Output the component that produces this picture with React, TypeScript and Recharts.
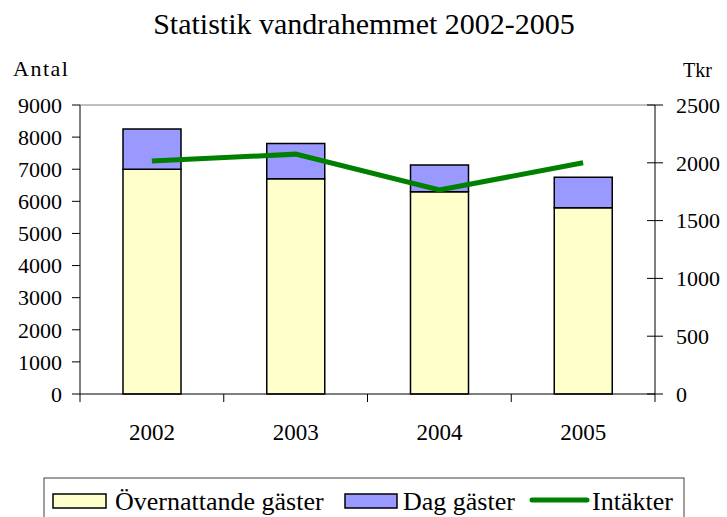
import {
  ComposedChart,
  Bar,
  Line,
  XAxis,
  YAxis,
  ReferenceLine,
} from 'recharts';

const years = ['2002', '2003', '2004', '2005'];
const overnightGuests = [7000, 6700, 6300, 5800];
const dayGuests = [1250, 1100, 830, 950];
const revenueTkr = [2015, 2075, 1765, 2000];

const leftTicks = [0, 1000, 2000, 3000, 4000, 5000, 6000, 7000, 8000, 9000];
const rightTicks = [0, 500, 1000, 1500, 2000, 2500];

const FONT = '"Liberation Serif", "Times New Roman", Times, serif';
const W = 727;
const H = 517;
const LEFT_W = 80;
const RIGHT_W = 72;
const PLOT_W = W - LEFT_W - RIGHT_W;
const BAND = PLOT_W / years.length;

const chartData = years.map((year, i) => ({
  year,
  overnight: overnightGuests[i],
  day: dayGuests[i],
  revenue: revenueTkr[i],
}));

const textStyle = { fontFamily: FONT, fontSize: 22 };

// category label at the centre, tick marks on the band edges (Excel style)
function YearTick(props: any) {
  const { x, y, payload, index } = props;
  const axisY = y - 30;
  const isLast = index === years.length - 1;
  return (
    <g>
      <line x1={x - BAND / 2} x2={x - BAND / 2} y1={axisY} y2={axisY + 8} stroke="#000" />
      {isLast && (
        <line x1={x + BAND / 2} x2={x + BAND / 2} y1={axisY} y2={axisY + 8} stroke="#000" />
      )}
      <text x={x} y={y} dy="0.71em" textAnchor="middle" fill="#000" style={{ ...textStyle, fontSize: 23 }}>
        {payload.value}
      </text>
    </g>
  );
}

function LeftTick(props: any) {
  const { x, y, payload } = props;
  return (
    <text x={x} y={y} dy="0.355em" textAnchor="end" fill="#000" style={textStyle}>
      {payload.value}
    </text>
  );
}

// right axis ticks cross the axis line
function RightTick(props: any) {
  const { x, y, payload } = props;
  const axisX = x - 21;
  return (
    <g>
      <line x1={axisX - 8} x2={axisX + 8} y1={y} y2={y} stroke="#000" />
      <text x={x} y={y} dy="0.355em" textAnchor="start" fill="#000" style={textStyle}>
        {payload.value}
      </text>
    </g>
  );
}

export default function App() {
  return (
    <div style={{ position: 'absolute', left: 0, top: 0, width: W, height: H, background: '#fff', fontFamily: FONT }}>
      <ComposedChart
        width={W}
        height={H}
        data={chartData}
        margin={{ top: 105, right: 0, left: 0, bottom: 63 }}
      >
        <XAxis
          dataKey="year"
          xAxisId="cat"
          height={60}
          axisLine={{ stroke: '#000' }}
          tickLine={false}
          tickSize={8}
          tickMargin={22}
          tick={<YearTick />}
          interval={0}
        />
        <YAxis
          yAxisId="left"
          orientation="left"
          width={LEFT_W}
          domain={[0, 9000]}
          ticks={leftTicks}
          interval={0}
          axisLine={{ stroke: '#000' }}
          tickLine={{ stroke: '#000' }}
          tickSize={8}
          tickMargin={10}
          tick={<LeftTick />}
        />
        <YAxis
          yAxisId="right"
          orientation="right"
          width={RIGHT_W}
          domain={[0, 2500]}
          ticks={rightTicks}
          interval={0}
          axisLine={{ stroke: '#000' }}
          tickLine={false}
          tickSize={8}
          tickMargin={13}
          tick={<RightTick />}
        />
        <ReferenceLine yAxisId="left" xAxisId="cat" y={9000} stroke="#808080" />
        <Bar
          xAxisId="cat"
          yAxisId="left"
          dataKey="overnight"
          stackId="guests"
          fill="#FFFFCC"
          stroke="#000"
          strokeWidth={1.5}
          barSize={58}
          isAnimationActive={false}
        />
        <Bar
          xAxisId="cat"
          yAxisId="left"
          dataKey="day"
          stackId="guests"
          fill="#9999FF"
          stroke="#000"
          strokeWidth={1.5}
          barSize={58}
          isAnimationActive={false}
        />
        <Line
          xAxisId="cat"
          yAxisId="right"
          dataKey="revenue"
          stroke="#008000"
          strokeWidth={5}
          dot={false}
          activeDot={false}
          isAnimationActive={false}
        />
      </ComposedChart>

      <svg
        width={W}
        height={H}
        style={{ position: 'absolute', left: 0, top: 0, pointerEvents: 'none', fontFamily: FONT }}
      >
        <text x={364} y={34} textAnchor="middle" fontSize={30} fill="#000">
          Statistik vandrahemmet 2002-2005
        </text>
        <text x={13} y={76} fontSize={22} letterSpacing={1.5} fill="#000">
          Antal
        </text>
        <text x={683} y={77} fontSize={20} fill="#000">
          Tkr
        </text>

        <rect x={44} y={478} width={640} height={60} fill="#fff" stroke="#404040" />
        <rect x={53} y={494} width={53} height={14} fill="#FFFFCC" stroke="#000" strokeWidth={1.5} />
        <text x={115} y={510} fontSize={26} fill="#000">
          Övernattande gäster
        </text>
        <rect x={345} y={494} width={52} height={14} fill="#9999FF" stroke="#000" strokeWidth={1.5} />
        <text x={403} y={510} fontSize={26} fill="#000">
          Dag gäster
        </text>
        <line x1={532} x2={587} y1={500} y2={500} stroke="#008000" strokeWidth={5} strokeLinecap="round" />
        <text x={592} y={510} fontSize={26} fill="#000">
          Intäkter
        </text>
      </svg>
    </div>
  );
}
